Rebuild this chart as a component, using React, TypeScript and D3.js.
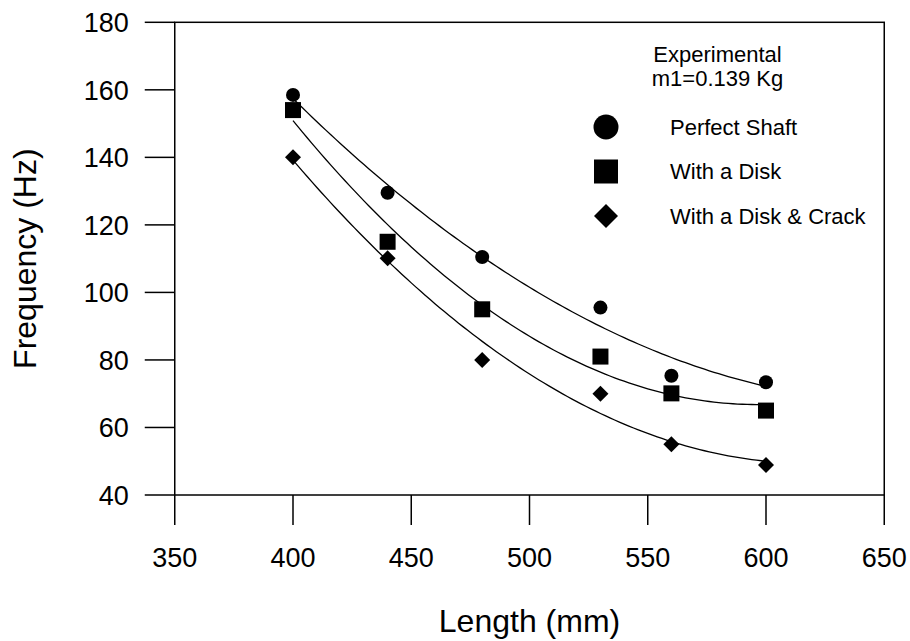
import React from "react";
import * as d3 from "d3";

// lengths (mm) shared by all three series
const lengths = [400, 440, 480, 530, 560, 600];

// measured frequencies (Hz)
const perfectShaft = [158.5, 129.5, 110.5, 95.5, 75.3, 73.4];
const withDisk = [154, 115, 95, 81, 70.1, 65];
const withDiskCrack = [140, 110.1, 80, 70, 55, 48.9];

const seriesNames = ["Perfect Shaft", "With a Disk", "With a Disk & Crack"];
const seriesShapes = ["circle", "square", "diamond"];

const xTicks = [350, 400, 450, 500, 550, 600, 650];
const yTicks = [40, 60, 80, 100, 120, 140, 160, 180];

const width = 910;
const height = 641;
const marginTop = 22.3;
const marginRight = 25.75;
const marginBottom = 146;
const marginLeft = 174.75;

const font = "'Liberation Sans', Arial, sans-serif";

// least squares quadratic fit, x centred for stability
function quadFit(xs: number[], ys: number[]) {
  const mx = d3.mean(xs) as number;
  const s = [0, 0, 0, 0, 0];
  const t = [0, 0, 0];
  xs.forEach((xv, i) => {
    const u = xv - mx;
    for (let k = 0; k < 5; k++) s[k] += Math.pow(u, k);
    for (let k = 0; k < 3; k++) t[k] += ys[i] * Math.pow(u, k);
  });
  const A = [
    [s[0], s[1], s[2], t[0]],
    [s[1], s[2], s[3], t[1]],
    [s[2], s[3], s[4], t[2]],
  ];
  for (let c = 0; c < 3; c++) {
    for (let r = c + 1; r < 3; r++) {
      const f = A[r][c] / A[c][c];
      for (let k = c; k < 4; k++) A[r][k] -= f * A[c][k];
    }
  }
  const b = [0, 0, 0];
  for (let r = 2; r >= 0; r--) {
    let v = A[r][3];
    for (let k = r + 1; k < 3; k++) v -= A[r][k] * b[k];
    b[r] = v / A[r][r];
  }
  return (xv: number) => {
    const u = xv - mx;
    return b[0] + b[1] * u + b[2] * u * u;
  };
}

function Marker({ shape, cx, cy, size }: { shape: string; cx: number; cy: number; size: number }) {
  if (shape === "circle") return <circle cx={cx} cy={cy} r={size / 2} fill="#000" />;
  if (shape === "square")
    return <rect x={cx - size / 2} y={cy - size / 2} width={size} height={size} fill="#000" />;
  const h = size / 2;
  return <path d={`M${cx},${cy - h}L${cx + h},${cy}L${cx},${cy + h}L${cx - h},${cy}Z`} fill="#000" />;
}

export default function App() {
  const x = d3.scaleLinear().domain([350, 650]).range([marginLeft, width - marginRight]);
  const y = d3.scaleLinear().domain([40, 180]).range([height - marginBottom, marginTop]);

  const series = [perfectShaft, withDisk, withDiskCrack];
  const markerSize = [14, 16, 16];

  const line = d3
    .line<number>()
    .x((d) => x(d))
    .curve(d3.curveLinear);

  const xs = d3.range(400, 600.01, 2);
  const [x0, x1] = x.range();
  const [yb, yt] = y.range();

  return (
    <svg
      width={width}
      height={height}
      style={{ position: "absolute", left: 0, top: 0, background: "#fff" }}
      fontFamily={font}
    >
      {/* frame */}
      <rect x={x0} y={yt} width={x1 - x0} height={yb - yt} fill="none" stroke="#000" strokeWidth={1.5} />
      {yTicks.map((t) => (
        <g key={"y" + t}>
          <line x1={x0 - 30} x2={x0} y1={y(t)} y2={y(t)} stroke="#000" strokeWidth={1.5} />
          <text x={x0 - 46} y={y(t)} dy="0.36em" textAnchor="end" fontSize={27} fill="#000">
            {t}
          </text>
        </g>
      ))}
      {xTicks.map((t) => (
        <g key={"x" + t}>
          <line x1={x(t)} x2={x(t)} y1={yb} y2={yb + 30} stroke="#000" strokeWidth={1.5} />
          <text x={x(t)} y={567} textAnchor="middle" fontSize={27} fill="#000">
            {t}
          </text>
        </g>
      ))}

      {/* axis titles */}
      <text x={(x0 + x1) / 2} y={632} textAnchor="middle" fontSize={32} fill="#000">
        Length (mm)
      </text>
      <text
        transform={`translate(36,${(yt + yb) / 2}) rotate(-90)`}
        textAnchor="middle"
        fontSize={32}
        fill="#000"
      >
        Frequency (Hz)
      </text>

      {/* fitted curves */}
      {series.map((vals, i) => {
        const f = quadFit(lengths, vals);
        return (
          <path
            key={"c" + i}
            d={line.y((d) => y(f(d)))(xs) || ""}
            fill="none"
            stroke="#000"
            strokeWidth={1.3}
          />
        );
      })}

      {/* points */}
      {series.map((vals, i) =>
        vals.map((v, j) => (
          <Marker key={`p${i}-${j}`} shape={seriesShapes[i]} cx={x(lengths[j])} cy={y(v)} size={markerSize[i]} />
        ))
      )}

      {/* legend */}
      <text x={717.5} y={62} textAnchor="middle" fontSize={22} fill="#000">
        Experimental
      </text>
      <text x={717.5} y={86} textAnchor="middle" fontSize={22} fill="#000">
        m1=0.139 Kg
      </text>
      {seriesNames.map((name, i) => (
        <g key={"l" + i}>
          <Marker shape={seriesShapes[i]} cx={606} cy={127 + i * 44.5} size={i === 0 ? 25 : 24} />
          <text x={670} y={127 + i * 44.5} dy="0.36em" fontSize={22} fill="#000">
            {name}
          </text>
        </g>
      ))}
    </svg>
  );
}
